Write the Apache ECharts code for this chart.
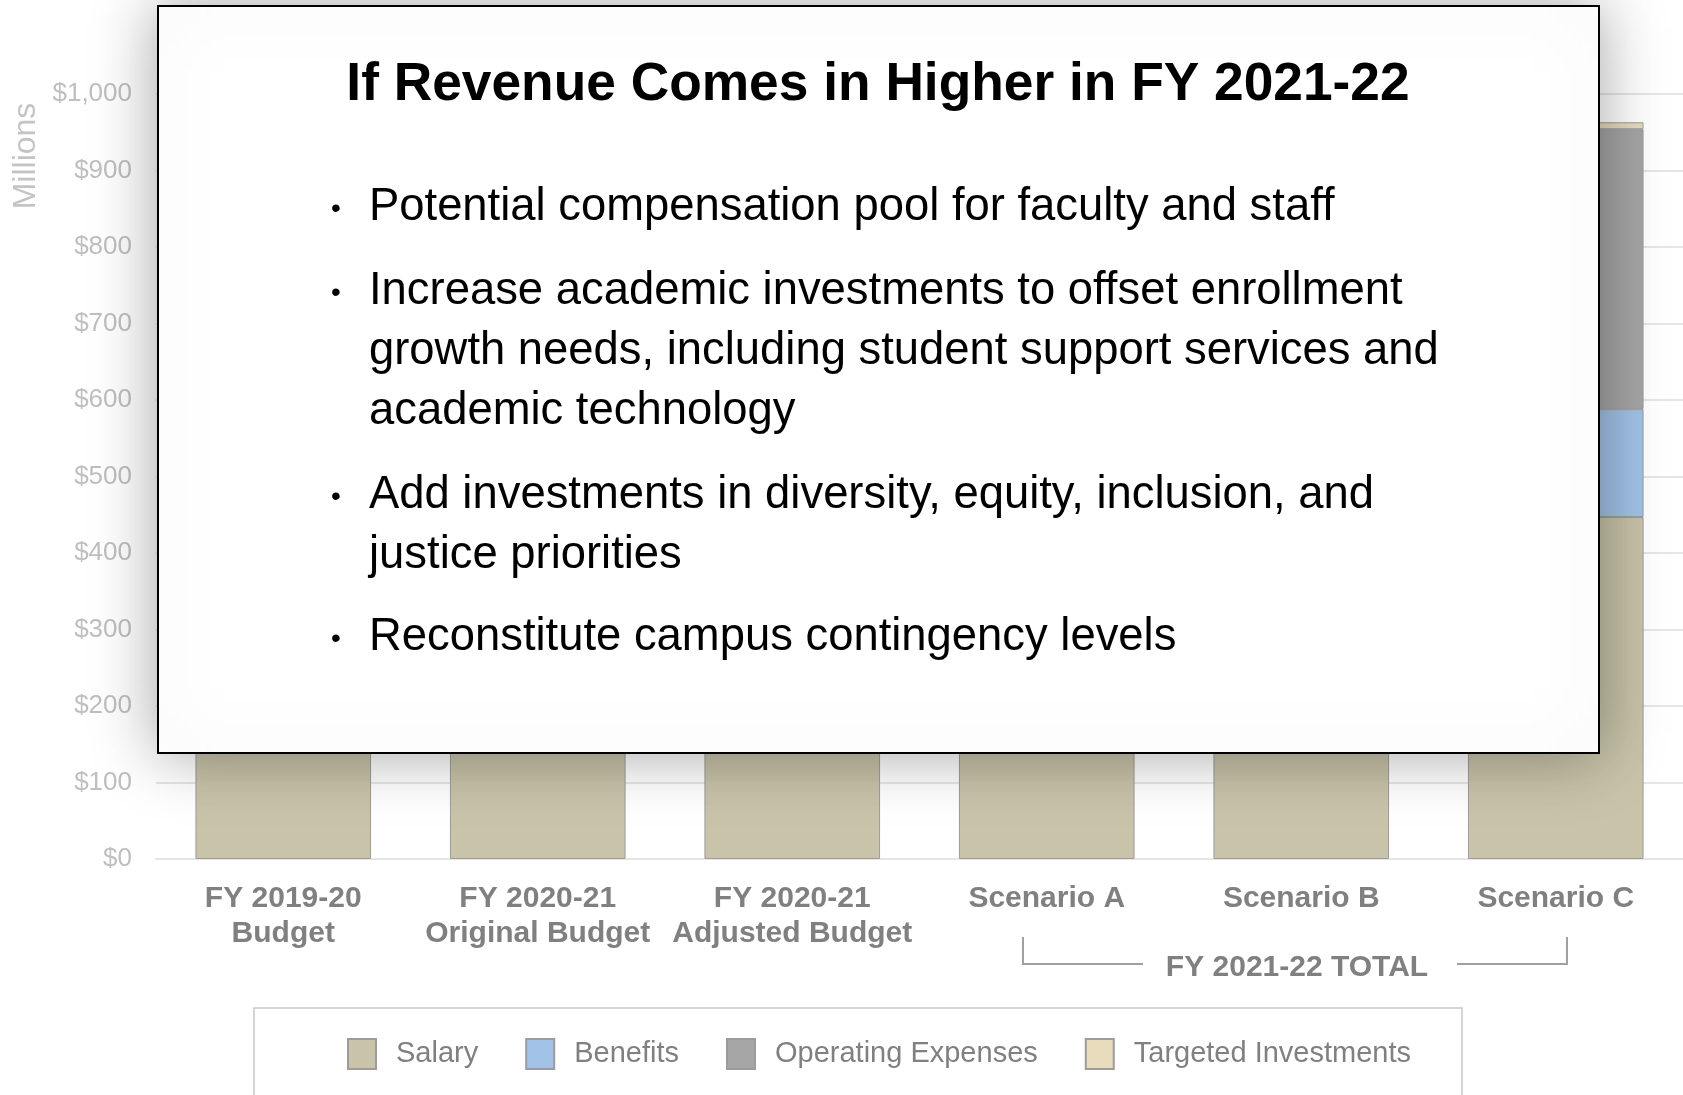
<!DOCTYPE html>
<html>
<head>
<meta charset="utf-8">
<script src="https://cdn.jsdelivr.net/npm/echarts@6/dist/echarts.min.js"></script>
<style>
html, body { margin: 0; padding: 0; background: #fff; }
#chart { width: 1683px; height: 1095px; }
</style>
</head>
<body>
<div id="chart"></div>
<script>
// categories and stacked values (millions)
var categories = ['FY 2019-20\nBudget', 'FY 2020-21\nOriginal Budget', 'FY 2020-21\nAdjusted Budget', 'Scenario A', 'Scenario B', 'Scenario C'];
var salary    = [432, 452, 440, 447, 447, 447];
var benefits  = [138, 146, 141, 141, 141, 141];
var operating = [372, 379, 352, 356, 362, 366];
var targeted  = [0, 0, 0, 0, 5, 9];
var seriesNames = ['Salary', 'Benefits', 'Operating Expenses', 'Targeted Investments'];
var colors = ['#c8c3a9', '#a2c3e8', '#a6a6a6', '#e8dcbc'];

var popupTitle = 'If Revenue Comes in Higher in FY 2021-22';
// each bullet is a list of wrapped lines
var bullets = [
    ['Potential compensation pool for faculty and staff'],
    ['Increase academic investments to offset enrollment', 'growth needs, including student support services and', 'academic technology'],
    ['Add investments in diversity, equity, inclusion, and', 'justice priorities'],
    ['Reconstitute campus contingency levels']
];

var FONT = '"Liberation Sans", Arial, Helvetica, sans-serif';
var chart = echarts.init(document.getElementById('chart'));

function makeSeries(name, data, i) {
    return {
        name: name,
        type: 'bar',
        stack: 'total',
        barWidth: '69%',
        data: data,
        itemStyle: { color: colors[i], borderColor: '#9c9c9c', borderWidth: 1 }
    };
}

// popup box drawn over the chart
var popupEls = [{
    type: 'rect', z: 100,
    shape: { x: 158, y: 6, width: 1441, height: 747 },
    style: { fill: '#fff', stroke: '#000', lineWidth: 2, shadowBlur: 60, shadowColor: 'rgba(0,0,0,0.35)' }
}, {
    type: 'text', z: 101,
    x: 878, y: 85,
    style: { text: popupTitle, font: 'bold 53.3px ' + FONT, fill: '#000', align: 'center', verticalAlign: 'middle' }
}];
var lineY = [[207], [291, 351, 411], [495, 555], [637]];
bullets.forEach(function (lines, b) {
    popupEls.push({
        type: 'text', z: 101, x: 336, y: lineY[b][0] + 2,
        style: { text: '\u2022', font: '28px ' + FONT, fill: '#000', align: 'center', verticalAlign: 'middle' }
    });
    lines.forEach(function (t, k) {
        popupEls.push({
            type: 'text', z: 101, x: 369, y: lineY[b][k],
            style: { text: t, font: '45.4px ' + FONT, fill: '#000', align: 'left', verticalAlign: 'middle' }
        });
    });
});

var option = {
    animation: false,
    backgroundColor: '#fff',
    color: colors,
    grid: { left: 156, right: 0, top: 94, bottom: 236 },
    legend: {
        left: 342, top: 1033,
        itemWidth: 28, itemHeight: 30, itemGap: 47,
        icon: 'rect',
        textStyle: { fontFamily: FONT, fontSize: 29, color: '#808080', padding: [0, 0, 0, 15] },
        data: seriesNames
    },
    xAxis: {
        type: 'category',
        data: categories,
        axisLine: { lineStyle: { color: '#e6e6e6', width: 2 } },
        axisTick: { show: false },
        axisLabel: {
            margin: 22, interval: 0,
            fontFamily: FONT, fontSize: 30, fontWeight: 'bold', color: '#808080', lineHeight: 35
        }
    },
    yAxis: {
        type: 'value',
        min: 0, max: 1000, interval: 100,
        axisLine: { show: false },
        axisTick: { show: false },
        splitLine: { lineStyle: { color: '#e6e6e6', width: 2 } },
        axisLabel: {
            margin: 24, fontFamily: FONT, fontSize: 26, color: '#bfbfbf',
            formatter: function (v) { return '$' + v.toLocaleString('en-US'); }
        }
    },
    series: [
        makeSeries(seriesNames[0], salary, 0),
        makeSeries(seriesNames[1], benefits, 1),
        makeSeries(seriesNames[2], operating, 2),
        makeSeries(seriesNames[3], targeted, 3)
    ],
    graphic: [
        {
            type: 'text', x: 26, y: 156, rotation: Math.PI / 2,
            style: { text: 'Millions', font: '32px ' + FONT, fill: '#c4c4c4', align: 'center', verticalAlign: 'middle' }
        },
        // FY 2021-22 bracket
        {
            type: 'polyline',
            shape: { points: [[1023, 937], [1023, 964], [1143, 964]] },
            style: { stroke: '#a0a0a0', lineWidth: 2, fill: null }
        },
        {
            type: 'polyline',
            shape: { points: [[1457, 964], [1567, 964], [1567, 937]] },
            style: { stroke: '#a0a0a0', lineWidth: 2, fill: null }
        },
        {
            type: 'text', x: 1297, y: 968,
            style: { text: 'FY 2021-22 TOTAL', font: 'bold 30px ' + FONT, fill: '#808080', align: 'center', verticalAlign: 'middle' }
        },
        // legend frame
        {
            type: 'rect', z: -1,
            shape: { x: 254, y: 1008, width: 1208, height: 120 },
            style: { fill: '#fff', stroke: '#c8c8c8', lineWidth: 1.5 }
        },
        {
            type: 'group', z: 100,
            children: popupEls
        }
    ]
};
chart.setOption(option);
</script>
</body>
</html>
